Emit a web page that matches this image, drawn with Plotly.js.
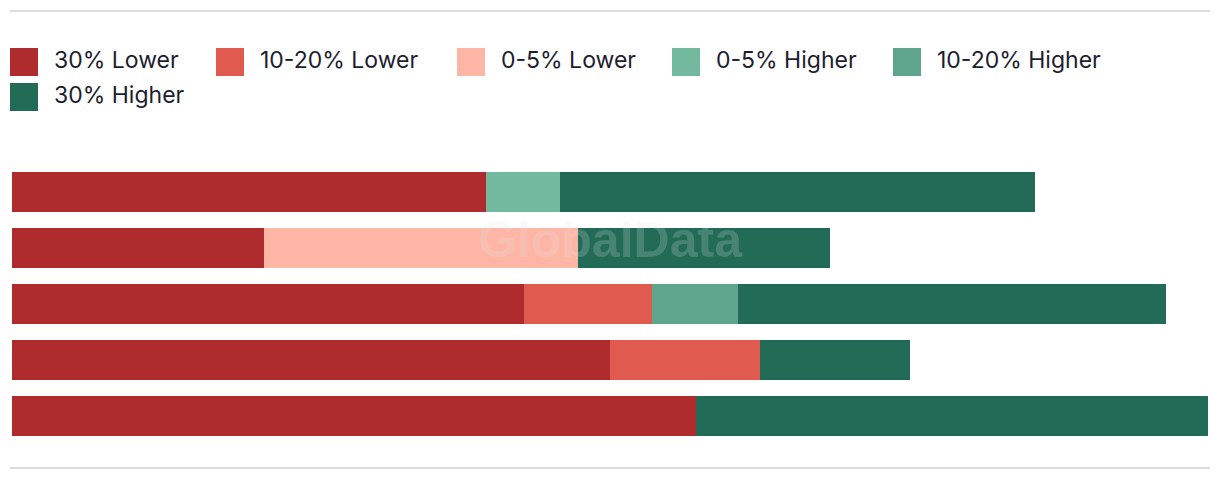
<!DOCTYPE html>
<html>
<head>
<meta charset="utf-8">
<script src="https://cdn.plot.ly/plotly-3.0.1.min.js"></script>
<style>
  html, body { margin: 0; padding: 0; background: #ffffff; }
  #chart { width: 1220px; height: 482px; }
</style>
</head>
<body>
<div id="chart"></div>
<script>
// ---- Data ----
const categories = ['Row 1', 'Row 2', 'Row 3', 'Row 4', 'Row 5'];
const seriesNames = ['30% Lower', '10-20% Lower', '0-5% Lower', '0-5% Higher', '10-20% Higher', '30% Higher'];
const lower30     = [39.6, 21.1, 42.8, 50.0, 57.2];
const lower10_20  = [0, 0, 10.7, 12.5, 0];
const lower0_5    = [0, 26.2, 0, 0, 0];
const higher0_5   = [6.2, 0, 0, 0, 0];
const higher10_20 = [0, 0, 7.2, 0, 0];
const higher30    = [39.7, 21.1, 35.8, 12.6, 42.8];
const seriesColors = ['#ae2c2e', '#e05a4f', '#fdb5a6', '#72b9a0', '#5fa58e', '#226b57'];

const seriesValues = [lower30, lower10_20, lower0_5, higher0_5, higher10_20, higher30];

const traces = seriesValues.map((vals, i) => ({
  type: 'bar',
  orientation: 'h',
  name: seriesNames[i],
  y: categories,
  x: vals,
  marker: { color: seriesColors[i], line: { width: 0 } },
  hoverinfo: 'name+x',
  showlegend: false
}));

// ---- Layout geometry (pixels) ----
const W = 1220, H = 482;
const mL = 12, mR = 12, mT = 164, mB = 38;
const pw = W - mL - mR, ph = H - mT - mB;
const px = x => (x - mL) / pw;
const py = y => (H - mB - y) / ph;

const shapes = [];
const annotations = [];

// horizontal rules
[11, 468].forEach(yy => {
  shapes.push({
    type: 'line', xref: 'paper', yref: 'paper',
    x0: px(10), x1: px(1210), y0: py(yy), y1: py(yy),
    line: { color: '#dcdcdc', width: 2 }
  });
});

// custom legend
const legendPos = [
  [10, 48], [216, 48], [457, 48], [672, 48], [893, 48],
  [10, 83]
];
seriesNames.forEach((name, i) => {
  const [lx, ly] = legendPos[i];
  shapes.push({
    type: 'rect', xref: 'paper', yref: 'paper',
    x0: px(lx), x1: px(lx + 28), y0: py(ly), y1: py(ly + 28),
    fillcolor: seriesColors[i], line: { width: 0 }
  });
  annotations.push({
    xref: 'paper', yref: 'paper',
    x: px(lx + 42), y: py(ly + 12),
    xanchor: 'left', yanchor: 'middle',
    text: name, showarrow: false,
    font: { family: 'Inter, Roboto, sans-serif', size: 23, color: '#1d1d2f' }
  });
});

// watermark
annotations.push({
  xref: 'paper', yref: 'paper',
  x: px(610), y: py(240),
  xanchor: 'center', yanchor: 'middle',
  text: '<b>GlobalData</b>', showarrow: false,
  font: { family: '"Liberation Sans", Arial, sans-serif', size: 50, color: 'rgba(230,230,230,0.2)' }
});

const layout = {
  width: W, height: H,
  margin: { l: mL, r: mR, t: mT, b: mB, pad: 0 },
  barmode: 'stack',
  bargap: 0.286,
  paper_bgcolor: '#ffffff',
  plot_bgcolor: '#ffffff',
  showlegend: false,
  xaxis: {
    range: [0, 100], showgrid: false, zeroline: false,
    showticklabels: false, ticks: '', showline: false, fixedrange: true
  },
  yaxis: {
    autorange: 'reversed', showgrid: false, zeroline: false,
    showticklabels: false, ticks: '', showline: false, fixedrange: true
  },
  shapes: shapes,
  annotations: annotations
};

Plotly.newPlot('chart', traces, layout, { displayModeBar: false, staticPlot: false });
</script>
</body>
</html>
